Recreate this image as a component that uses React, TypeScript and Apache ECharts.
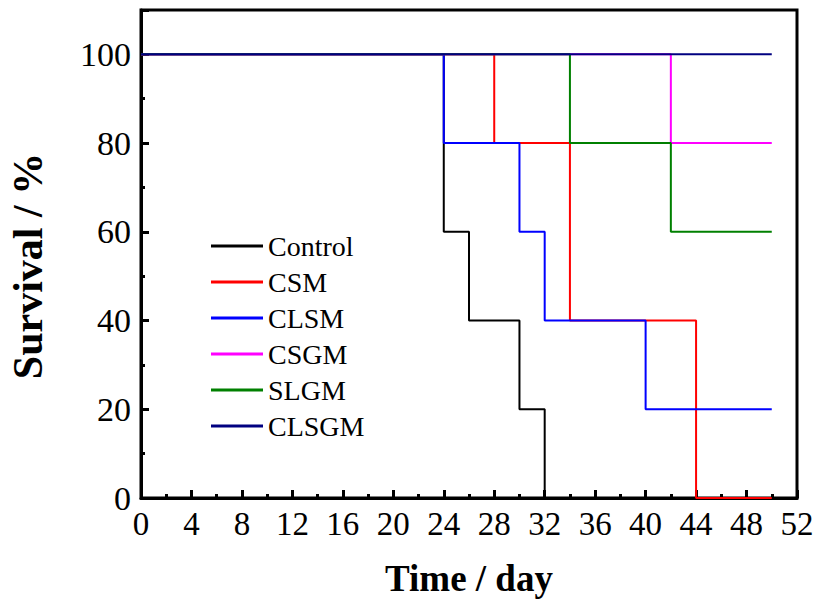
import React, { useEffect, useRef } from "react";
import * as echarts from "echarts";

const seriesNames = ["Control", "CSM", "CLSM", "CSGM", "SLGM", "CLSGM"];
const seriesColors = ["#000000", "#ff0000", "#0000ff", "#ff00ff", "#008000", "#000080"];

const controlDays = [0, 24, 26, 30, 32];
const controlSurvival = [100, 60, 40, 20, 0];
const csmDays = [0, 28, 34, 44, 50];
const csmSurvival = [100, 80, 40, 0, 0];
const clsmDays = [0, 24, 30, 32, 40, 50];
const clsmSurvival = [100, 80, 60, 40, 20, 20];
const csgmDays = [0, 42, 50];
const csgmSurvival = [100, 80, 80];
const slgmDays = [0, 34, 42, 50];
const slgmSurvival = [100, 80, 60, 60];
const clsgmDays = [0, 50];
const clsgmSurvival = [100, 100];

const allDays = [controlDays, csmDays, clsmDays, csgmDays, slgmDays, clsgmDays];
const allSurvival = [controlSurvival, csmSurvival, clsmSurvival, csgmSurvival, slgmSurvival, clsgmSurvival];

const FONT = "'Liberation Serif', 'Times New Roman', serif";

export default function App() {
  const ref = useRef<HTMLDivElement>(null);
  useEffect(() => {
    if (!ref.current) return;
    const chart = echarts.init(ref.current, undefined, { renderer: "svg" });
    const series = seriesNames.map((name, i) => ({
      name,
      type: "line",
      step: "end",
      symbol: "none",
      data: allDays[i].map((d, j) => [d, allSurvival[i][j]]),
      lineStyle: { color: seriesColors[i], width: 2 },
      itemStyle: { color: seriesColors[i] },
      z: 2 + i,
    }));
    chart.setOption({
      animation: false,
      backgroundColor: "#ffffff",
      grid: {
        left: 141,
        right: 24,
        top: 10,
        bottom: 108,
        show: true,
        borderColor: "#000",
        borderWidth: 3,
        containLabel: false,
        outerBoundsMode: "none",
      },
      legend: {
        orient: "vertical",
        left: 206,
        top: 227,
        icon: "rect",
        itemWidth: 52,
        itemHeight: 3,
        itemGap: 8,
        data: seriesNames,
        textStyle: { fontFamily: FONT, fontSize: 28, color: "#000" },
      },
      xAxis: {
        type: "value",
        min: 0,
        max: 52,
        interval: 4,
        name: "Time / day",
        nameLocation: "middle",
        nameGap: 62,
        nameTextStyle: { fontFamily: FONT, fontSize: 37, fontWeight: "bold", color: "#000" },
        axisLine: { show: true, onZero: false, lineStyle: { color: "#000", width: 3 } },
        axisTick: { show: true, inside: true, length: 8, lineStyle: { color: "#000", width: 3 } },
        minorTick: { show: true, splitNumber: 2, length: 4, lineStyle: { color: "#000", width: 3 } },
        axisLabel: { fontFamily: FONT, fontSize: 33, color: "#000", margin: 9 },
        splitLine: { show: false },
      },
      yAxis: {
        type: "value",
        min: 0,
        max: 110,
        interval: 20,
        name: "Survival / %",
        nameLocation: "middle",
        nameGap: 92,
        nameTextStyle: {
          fontFamily: FONT,
          fontSize: 42,
          fontWeight: "bold",
          color: "#000",
          padding: [0, 24, 0, 0],
        },
        axisLine: { show: true, onZero: false, lineStyle: { color: "#000", width: 3 } },
        axisTick: { show: true, inside: true, length: 8, lineStyle: { color: "#000", width: 3 } },
        minorTick: { show: true, splitNumber: 2, length: 4, lineStyle: { color: "#000", width: 3 } },
        axisLabel: { fontFamily: FONT, fontSize: 34, color: "#000", margin: 10, showMaxLabel: false },
        splitLine: { show: false },
      },
      series,
    });
    return () => chart.dispose();
  }, []);
  return (
    <div
      ref={ref}
      style={{ position: "fixed", left: 0, top: 0, width: 821, height: 606, background: "#fff" }}
    />
  );
}
